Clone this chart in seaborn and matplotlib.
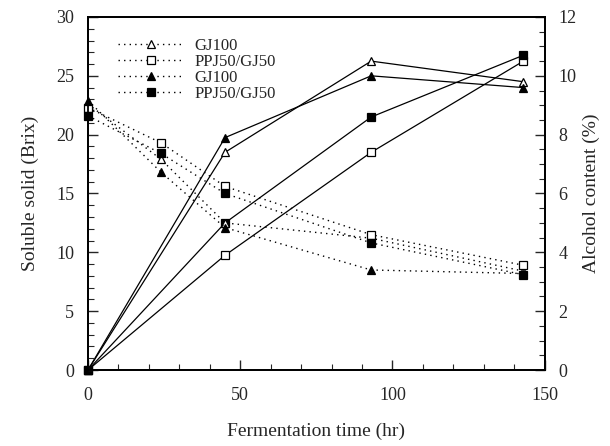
import matplotlib
matplotlib.use("Agg")
import matplotlib.pyplot as plt
import seaborn as sns
import numpy as np
from matplotlib.ticker import MultipleLocator

sns.set_style("ticks")
plt.rcParams['font.family'] = ['Liberation Serif', 'DejaVu Serif']

# Data
time_brix = [0, 24, 45, 93, 143]
brix_gj100_open = [22.6, 17.9, 12.5, 11.2, 8.4]
brix_ppj_open = [22.3, 19.3, 15.6, 11.5, 8.9]
brix_gj100_filled = [22.9, 16.8, 12.1, 8.5, 8.2]
brix_ppj_filled = [21.6, 18.4, 15.0, 10.8, 8.1]

time_alc = [0, 45, 93, 143]
alc_gj100_open = [0, 7.4, 10.5, 9.8]
alc_ppj_open = [0, 3.9, 7.4, 10.5]
alc_gj100_filled = [0, 7.9, 10.0, 9.6]
alc_ppj_filled = [0, 5.0, 8.6, 10.7]

labels = ["GJ100", "PPJ50/GJ50", "GJ100", "PPJ50/GJ50"]
markers = ["^", "s", "^", "s"]
faces = ["white", "white", "black", "black"]

fig = plt.figure(figsize=(6.10, 4.46), dpi=100)
ax1 = fig.add_axes([0.1443, 0.1704, 0.7487, 0.7915])
ax2 = ax1.twinx()

brix_series = [brix_gj100_open, brix_ppj_open, brix_gj100_filled, brix_ppj_filled]
alc_series = [alc_gj100_open, alc_ppj_open, alc_gj100_filled, alc_ppj_filled]

for ys, lab, m, fc in zip(brix_series, labels, markers, faces):
    sns.lineplot(x=time_brix, y=ys, ax=ax1, color="black", linestyle=(0, (1, 3)),
                 linewidth=1.0, marker=m, markersize=5.8, markerfacecolor=fc,
                 markeredgecolor="black", markeredgewidth=0.9, label=lab, clip_on=False)

for ys, m, fc in zip(alc_series, markers, faces):
    sns.lineplot(x=time_alc, y=ys, ax=ax2, color="black", linestyle="-",
                 linewidth=0.9, marker=m, markersize=5.8, markerfacecolor=fc,
                 markeredgecolor="black", markeredgewidth=0.9, clip_on=False)

ax1.set_xlim(0, 150)
ax1.set_ylim(0, 30)
ax2.set_ylim(0, 12)

ax1.xaxis.set_major_locator(MultipleLocator(50))
ax1.xaxis.set_minor_locator(MultipleLocator(10))
ax1.yaxis.set_major_locator(MultipleLocator(5))
ax1.yaxis.set_minor_locator(MultipleLocator(1))
ax2.yaxis.set_major_locator(MultipleLocator(2))
ax2.yaxis.set_minor_locator(MultipleLocator(0.5))

for ax in (ax1, ax2):
    ax.tick_params(which="major", direction="in", length=7, width=1.0, labelsize=13)
    ax.tick_params(which="minor", direction="in", length=4, width=0.8)
    for sp in ax.spines.values():
        sp.set_visible(True)
        sp.set_linewidth(1.3)
        sp.set_color("black")
ax1.tick_params(axis="x", pad=12)
ax1.tick_params(axis="y", pad=10)
ax2.tick_params(axis="y", pad=10)

ax1.set_xlabel("Fermentation time (hr)", fontsize=14, labelpad=14)
ax1.set_ylabel("Soluble solid (Brix)", fontsize=14, labelpad=12)
ax2.set_ylabel("Alcohol content (%)", fontsize=14, labelpad=4)

leg = ax1.legend(loc="upper left", bbox_to_anchor=(0.05, 0.96), frameon=False,
                 fontsize=12, handlelength=4.0, handletextpad=0.6,
                 labelspacing=0.0, borderaxespad=0.0)
ax2.set_zorder(ax1.get_zorder() - 1)
ax1.patch.set_visible(False)

fig.savefig("out.png", dpi=100)
